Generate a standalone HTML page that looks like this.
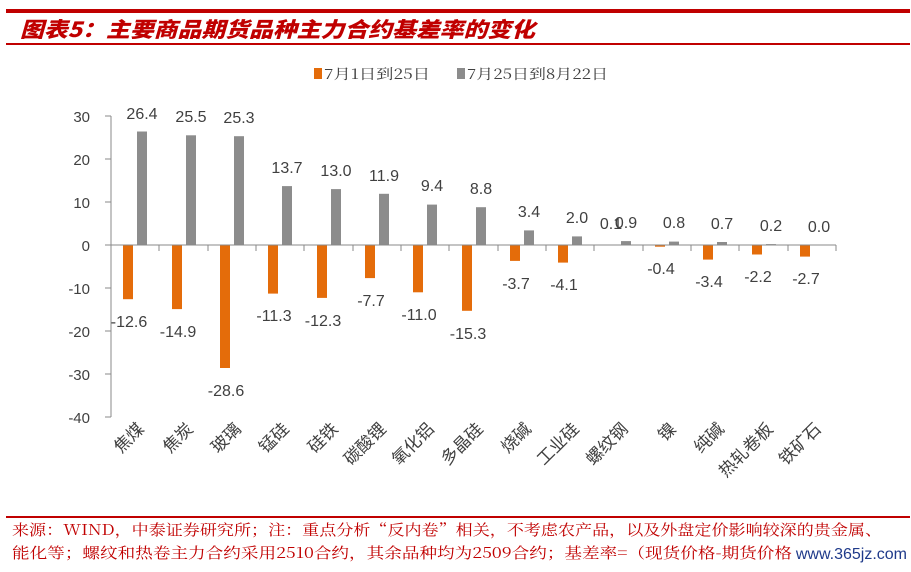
<!DOCTYPE html>
<html><head><meta charset="utf-8"><style>
body{margin:0;width:911px;height:567px;background:#fff;overflow:hidden;font-family:"Liberation Sans","Noto Sans CJK SC",sans-serif}
</style></head><body>
<svg width="911" height="567" xmlns="http://www.w3.org/2000/svg" font-family="Liberation Sans, Noto Sans CJK SC, sans-serif">
<rect x="6" y="9" width="904" height="4" fill="#c00000"/>
<rect x="6" y="43" width="904" height="2" fill="#c00000"/>
<text x="20" y="37" font-size="21" font-weight="900" font-style="italic" fill="#c00000" font-family="Noto Sans CJK SC, sans-serif" textLength="515" lengthAdjust="spacingAndGlyphs">图表5：主要商品期货品种主力合约基差率的变化</text>
<rect x="314" y="68" width="8" height="11" fill="#e46c0a"/>
<text x="324" y="79" font-size="14" fill="#404040" font-family="Noto Serif CJK SC, serif" textLength="106" lengthAdjust="spacingAndGlyphs">7月1日到25日</text>
<rect x="457" y="68" width="8" height="11" fill="#8c8c8c"/>
<text x="467" y="79" font-size="14" fill="#404040" font-family="Noto Serif CJK SC, serif" textLength="141" lengthAdjust="spacingAndGlyphs">7月25日到8月22日</text>

<line x1="111" y1="116" x2="111" y2="417" stroke="#888"/>
<g font-size="15" fill="#404040" text-anchor="end">
<text x="90" y="122">30</text><text x="90" y="165">20</text><text x="90" y="208">10</text><text x="90" y="251">0</text>
<text x="90" y="294">-10</text><text x="90" y="337">-20</text><text x="90" y="380">-30</text><text x="90" y="423">-40</text>
</g>
<g stroke="#888">
<line x1="105" y1="116" x2="111" y2="116"/><line x1="105" y1="159" x2="111" y2="159"/><line x1="105" y1="202" x2="111" y2="202"/><line x1="105" y1="245" x2="111" y2="245"/><line x1="105" y1="288" x2="111" y2="288"/><line x1="105" y1="331" x2="111" y2="331"/><line x1="105" y1="374" x2="111" y2="374"/><line x1="105" y1="417" x2="111" y2="417"/>
</g>

<g fill="#e46c0a">
<rect x="123" y="245" width="10" height="54.2"/>
<rect x="172" y="245" width="10" height="64.1"/>
<rect x="220" y="245" width="10" height="123"/>
<rect x="268" y="245" width="10" height="48.6"/>
<rect x="317" y="245" width="10" height="52.9"/>
<rect x="365" y="245" width="10" height="33.1"/>
<rect x="413" y="245" width="10" height="47.3"/>
<rect x="462" y="245" width="10" height="65.8"/>
<rect x="510" y="245" width="10" height="15.9"/>
<rect x="558" y="245" width="10" height="17.6"/>
<rect x="607" y="244.6" width="10" height="0.4"/>
<rect x="655" y="245" width="10" height="1.7"/>
<rect x="703" y="245" width="10" height="14.6"/>
<rect x="752" y="245" width="10" height="9.5"/>
<rect x="800" y="245" width="10" height="11.6"/>
</g>
<g fill="#8c8c8c">
<rect x="137" y="131.5" width="10" height="113.5"/>
<rect x="186" y="135.3" width="10" height="109.7"/>
<rect x="234" y="136.2" width="10" height="108.8"/>
<rect x="282" y="186.1" width="10" height="58.9"/>
<rect x="331" y="189.1" width="10" height="55.9"/>
<rect x="379" y="193.8" width="10" height="51.2"/>
<rect x="427" y="204.6" width="10" height="40.4"/>
<rect x="476" y="207.2" width="10" height="37.8"/>
<rect x="524" y="230.4" width="10" height="14.6"/>
<rect x="572" y="236.4" width="10" height="8.6"/>
<rect x="621" y="241.1" width="10" height="3.9"/>
<rect x="669" y="241.6" width="10" height="3.4"/>
<rect x="717" y="242" width="10" height="3"/>
<rect x="766" y="244.1" width="10" height="0.9"/>
</g>
<line x1="111" y1="245" x2="836" y2="245" stroke="#888"/>
<g stroke="#888">
<line x1="159" y1="245" x2="159" y2="251"/><line x1="208" y1="245" x2="208" y2="251"/><line x1="256" y1="245" x2="256" y2="251"/><line x1="304" y1="245" x2="304" y2="251"/><line x1="353" y1="245" x2="353" y2="251"/><line x1="401" y1="245" x2="401" y2="251"/><line x1="449" y1="245" x2="449" y2="251"/><line x1="498" y1="245" x2="498" y2="251"/><line x1="546" y1="245" x2="546" y2="251"/><line x1="594" y1="245" x2="594" y2="251"/><line x1="643" y1="245" x2="643" y2="251"/><line x1="691" y1="245" x2="691" y2="251"/><line x1="739" y1="245" x2="739" y2="251"/><line x1="788" y1="245" x2="788" y2="251"/><line x1="836" y1="245" x2="836" y2="251"/>
</g>
<g font-size="16" fill="#404040" text-anchor="middle">
<text x="142" y="119">26.4</text><text x="191" y="122">25.5</text><text x="239" y="123">25.3</text><text x="287" y="173">13.7</text><text x="336" y="176">13.0</text><text x="384" y="181">11.9</text><text x="432" y="191">9.4</text><text x="481" y="194">8.8</text><text x="529" y="217">3.4</text><text x="577" y="223">2.0</text><text x="626" y="228">0.9</text><text x="674" y="228">0.8</text><text x="722" y="229">0.7</text><text x="771" y="231">0.2</text><text x="819" y="232">0.0</text>
<text x="129" y="327">-12.6</text><text x="178" y="337">-14.9</text><text x="226" y="396">-28.6</text><text x="274" y="321">-11.3</text><text x="323" y="326">-12.3</text><text x="371" y="306">-7.7</text><text x="419" y="320">-11.0</text><text x="468" y="339">-15.3</text><text x="516" y="289">-3.7</text><text x="564" y="290">-4.1</text><text x="611" y="229">0.1</text><text x="661" y="274">-0.4</text><text x="709" y="287">-3.4</text><text x="758" y="282">-2.2</text><text x="806" y="284">-2.7</text>
</g>
<g font-size="17" fill="#404040" text-anchor="end" font-family="Noto Sans CJK SC, sans-serif">
<text transform="translate(145,430) rotate(-45)">焦煤</text>
<text transform="translate(194,430) rotate(-45)">焦炭</text>
<text transform="translate(242,430) rotate(-45)">玻璃</text>
<text transform="translate(290,430) rotate(-45)">锰硅</text>
<text transform="translate(339,430) rotate(-45)">硅铁</text>
<text transform="translate(387,430) rotate(-45)">碳酸锂</text>
<text transform="translate(435,430) rotate(-45)">氧化铝</text>
<text transform="translate(484,430) rotate(-45)">多晶硅</text>
<text transform="translate(532,430) rotate(-45)">烧碱</text>
<text transform="translate(580,430) rotate(-45)">工业硅</text>
<text transform="translate(629,430) rotate(-45)">螺纹钢</text>
<text transform="translate(677,430) rotate(-45)">镍</text>
<text transform="translate(725,430) rotate(-45)">纯碱</text>
<text transform="translate(774,430) rotate(-45)">热轧卷板</text>
<text transform="translate(822,430) rotate(-45)">铁矿石</text>
</g>

<line x1="6" y1="517" x2="910" y2="517" stroke="#c00000" stroke-width="2"/>
<text x="12" y="535" font-size="15" fill="#c00000" font-family="Noto Serif CJK SC, serif" textLength="870" lengthAdjust="spacingAndGlyphs">来源：WIND，中泰证券研究所；注：重点分析“反内卷”相关，不考虑农产品，以及外盘定价影响较深的贵金属、</text>
<text x="12" y="558" font-size="15" fill="#c00000" font-family="Noto Serif CJK SC, serif" textLength="780" lengthAdjust="spacingAndGlyphs">能化等；螺纹和热卷主力合约采用2510合约，其余品种均为2509合约；基差率=（现货价格-期货价格</text>
<rect x="795" y="542" width="116" height="22" fill="#fff"/>
<text x="907" y="559" font-size="16" fill="#1f3a8a" text-anchor="end">www.365jz.com</text>
</svg>
</body></html>
